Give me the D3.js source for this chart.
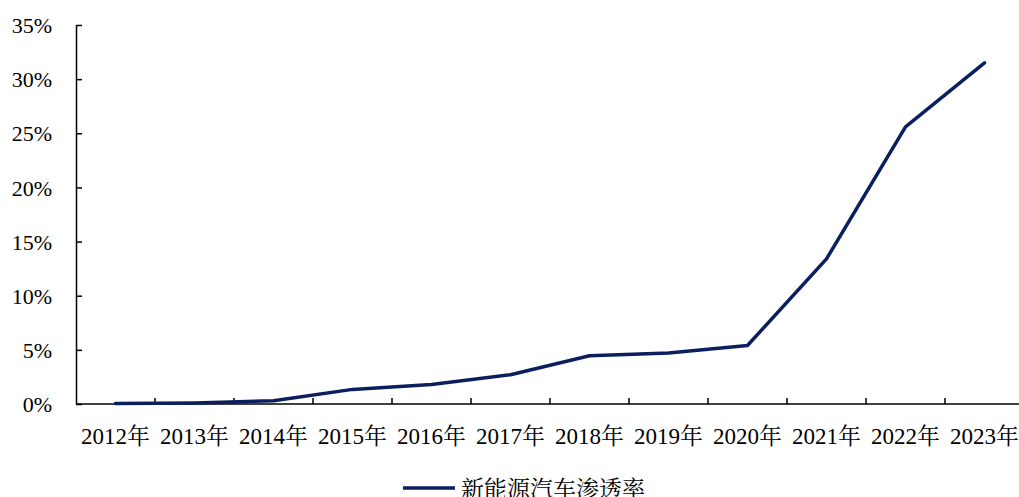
<!DOCTYPE html>
<html>
<head>
<meta charset="utf-8">
<script src="https://cdn.jsdelivr.net/npm/d3@7"></script>
<style>
  body { margin: 0; background: #fff; }
  svg text { font-family: "Liberation Serif", "Noto Serif CJK SC", "Noto Sans CJK SC"; }
</style>
</head>
<body>
<svg id="chart" width="1019" height="497"></svg>
<script>
// data
var years = ["2012年","2013年","2014年","2015年","2016年","2017年","2018年","2019年","2020年","2021年","2022年","2023年"];
var rate = [0.05, 0.1, 0.3, 1.35, 1.8, 2.7, 4.45, 4.7, 5.4, 13.4, 25.6, 31.5];
var yTicks = [0, 5, 10, 15, 20, 25, 30, 35];
var seriesName = "新能源汽车渗透率";

var svg = d3.select("#chart");
var mLeft = 76, mRight = 1024, mTop = 25, mBottom = 404;

var x = d3.scaleBand().domain(years).range([mLeft, mRight]);
var y = d3.scaleLinear().domain([0, 35]).range([mBottom, mTop]);

// y axis
var ya = svg.append("g").attr("transform", "translate(" + mLeft + ",0)")
  .call(d3.axisLeft(y).tickValues(yTicks).tickSize(-6).tickSizeOuter(0).tickPadding(24).tickFormat(d => d + "%"));
ya.attr("font-family", null);
ya.select(".domain").attr("stroke", "#000").attr("stroke-width", 1.5);
ya.selectAll(".tick line").attr("stroke", "#000").attr("stroke-width", 1.5);
ya.selectAll("text").style("font-size", "22px").attr("fill", "#000").attr("dy", "0.35em");

// x axis, ticks between categories
var xa = svg.append("g").attr("transform", "translate(0," + mBottom + ")");
xa.append("line").attr("x1", mLeft).attr("x2", mRight).attr("stroke", "#000").attr("stroke-width", 1.5);
xa.selectAll("line.tk").data(years.slice(1)).enter().append("line")
  .attr("class", "tk")
  .attr("x1", d => x(d)).attr("x2", d => x(d))
  .attr("y1", 0).attr("y2", -6)
  .attr("stroke", "#000").attr("stroke-width", 1.5);
xa.selectAll("text").data(years).enter().append("text")
  .attr("x", d => x(d) + x.bandwidth() / 2)
  .attr("y", 40)
  .attr("text-anchor", "middle")
  .style("font-size", "23px")
  .text(d => d);

// line
var line = d3.line()
  .x((d, i) => x(years[i]) + x.bandwidth() / 2)
  .y(d => y(d));
svg.append("path").datum(rate)
  .attr("d", line)
  .attr("fill", "none")
  .attr("stroke", "#0b1f5e")
  .attr("stroke-width", 3.5)
  .attr("stroke-linejoin", "round")
  .attr("stroke-linecap", "round");

// legend
var lg = svg.append("g").attr("transform", "translate(403,488)");
lg.append("line").attr("x1", 0).attr("x2", 52).attr("stroke", "#0b1f5e").attr("stroke-width", 3.5);
lg.append("text").attr("x", 58).attr("y", 9).style("font-size", "23px").text(seriesName);
</script>
</body>
</html>
